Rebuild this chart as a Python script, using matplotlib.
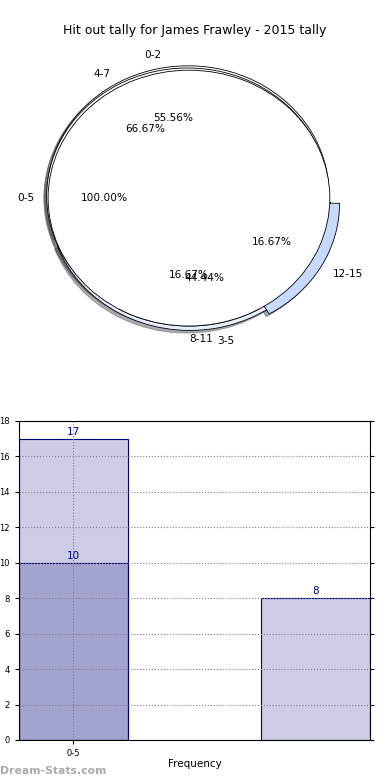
# Hit out tally pie (three overlaid pies) + frequency bars
import matplotlib
matplotlib.use("Agg")
import matplotlib.pyplot as plt

title = "Hit out tally for James Frawley - 2015 tally"

# pies (drawn one over another, as in the original)
pie_a_labels = ["0-5"]
pie_a_values = [1]
pie_b_labels = ["0-2", "3-5"]
pie_b_values = [5, 4]
pie_c_labels = ["4-7", "8-11", "12-15"]
pie_c_values = [4, 1, 1]

# bars
bar_labels = ["0-5"]
bars_back = [17, 8]
bars_front = [10]

fig = plt.figure(figsize=(3.9, 7.8), dpi=100)

ax1 = fig.add_axes([0.033, 0.541, 0.903, 0.41])
pct = dict(fontsize=7.6)
edge = dict(edgecolor="black", linewidth=0.6)
shad = dict(ox=-0.015, oy=-0.015, alpha=0.45)
ax1.pie(pie_b_values, labels=pie_b_labels, autopct="%1.2f%%", shadow=shad,
        explode=[0.035, 0.035], colors=["white", "#e8eeff"],
        wedgeprops=edge, textprops=pct)
ax1.pie(pie_c_values, labels=pie_c_labels, autopct="%1.2f%%", shadow=shad,
        explode=[0.02, 0.0, 0.08], colors=["white", "white", "#c6d9ff"],
        wedgeprops=edge, textprops=pct)
ax1.pie(pie_a_values, labels=pie_a_labels, autopct="%1.2f%%", shadow=shad,
        colors=["white"], wedgeprops=edge, textprops=pct)
ax1.set_aspect("auto")
ax1.set_xlim(-1.25, 1.25)
ax1.set_ylim(-1.25, 1.25)
fig.text(0.5, 0.961, title, ha="center", va="center", fontsize=9)

ax2 = fig.add_axes([0.0487, 0.0513, 0.9, 0.409])
w = 0.45
ax2.bar([0, 1], bars_back, width=w, align="edge", color="navy", alpha=0.2)
ax2.bar([0, 1], bars_back, width=w, align="edge", fill=False, edgecolor="navy", linewidth=0.8)
ax2.bar([0], bars_front, width=w, align="edge", color="navy", alpha=0.2)
ax2.bar([0], bars_front, width=w, align="edge", fill=False, edgecolor="navy", linewidth=0.8)
for x, v in zip([0, 1], bars_back):
    ax2.text(x + w / 2, v + 0.1, str(v), ha="center", va="bottom", color="navy", fontsize=7.5)
for x, v in zip([0], bars_front):
    ax2.text(x + w / 2, v + 0.1, str(v), ha="center", va="bottom", color="navy", fontsize=7.5)

ax2.set_xlim(0, 1.45)
ax2.set_ylim(0, 18)
ax2.set_yticks(range(0, 19, 2))
ax2.set_xticks([w / 2])
ax2.set_xticklabels(bar_labels)
ax2.tick_params(labelsize=6, length=3, right=True)
ax2.grid(True, color="gray", linestyle=":", linewidth=0.8)
ax2.set_xlabel("Frequency", fontsize=7.5, labelpad=1)
ax2.set_ylabel("Total Hit Outs", fontsize=7.5, labelpad=2)
ax2.yaxis.set_label_coords(-0.058, 0.5)

fig.text(0.0, 0.012, "Dream-Stats.com", color="#aaaaaa", fontsize=7.8,
         fontweight="bold", ha="left", va="center")

fig.savefig("out.png", dpi=100)
